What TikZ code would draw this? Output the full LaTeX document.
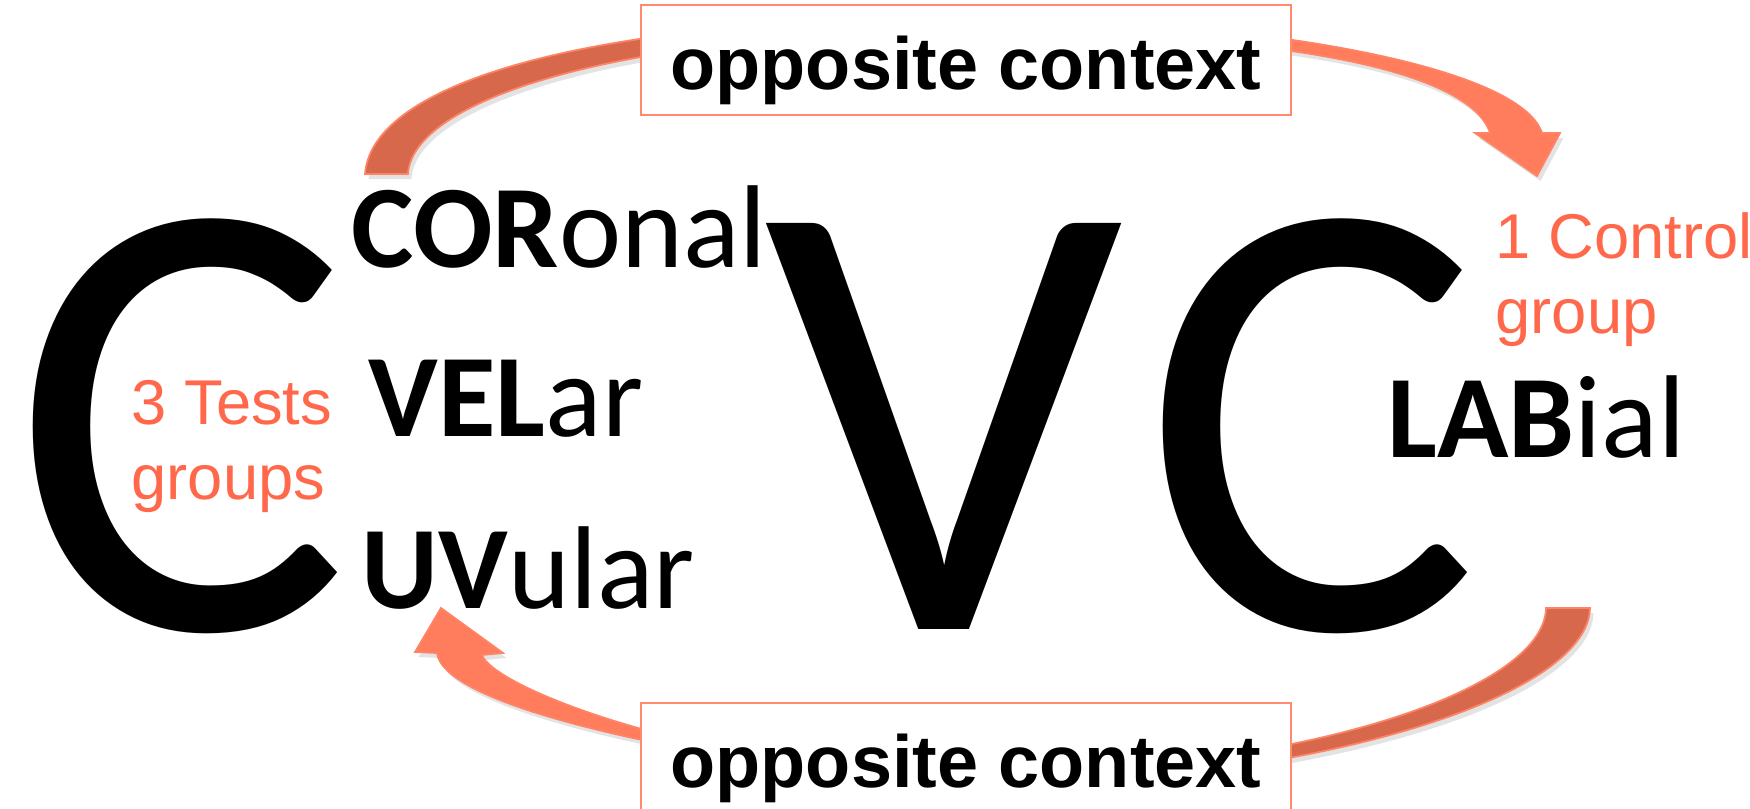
\documentclass[tikz,border=0pt]{standalone}
\usepackage{fontspec}
\setmainfont{Carlito}
\newfontfamily\arialfont{Liberation Sans}
\usetikzlibrary{shadows}

\definecolor{arrdark}{RGB}{216,104,76}
\definecolor{arrlight}{RGB}{255,124,92}
\definecolor{arredge}{RGB}{255,132,102}
\definecolor{grouptxt}{RGB}{255,104,74}
\definecolor{boxedge}{RGB}{255,138,112}

\begin{document}
\begin{tikzpicture}[
    x=0.01cm, y=-0.01cm,
    bigletter/.style={anchor=base west, inner sep=0pt, font=\fontsize{180}{180}\selectfont},
    place/.style={anchor=base west, inner sep=0pt, font=\fontsize{33.5}{40}\selectfont},
    grouplabel/.style={anchor=north west, inner sep=0pt, align=left, text=grouptxt,
        font=\arialfont\fontsize{18}{21.3}\selectfont},
    ctxbox/.style={draw=boxedge, line width=0.6pt, fill=white, minimum width=6.49cm,
        minimum height=1.1cm, inner sep=0pt, text height=19pt, text depth=2pt,
        font=\arialfont\bfseries\fontsize{21}{26}\selectfont},
    band/.style={draw=arredge, line width=0.5pt,
        drop shadow={shadow xshift=0.35mm, shadow yshift=-0.5mm, opacity=0.22}}
]
    \useasboundingbox (0,0) rectangle (1750,809);

    % arrow ends
    \coordinate (topstart) at (365,174);
    \coordinate (toptip) at (1537,176);
    \coordinate (botstart) at (1590,608);
    \coordinate (bottip) at (441,608);

    % upper arrow: CORonal -> LABial
    \path[band, fill=arrdark] (topstart) .. controls (372,80) and (600,18) .. (966,18)
        -- (966,32) .. controls (620,32) and (412,100) .. (408,174) -- cycle;
    \path[band, fill=arrlight] (966,18) .. controls (1250,18) and (1520,65) .. (1542,133)
        -- (1560,133) -- (toptip) -- (1475,133) -- (1490,133)
        .. controls (1470,70) and (1280,32) .. (966,32) -- cycle;

    % lower arrow: LABial -> UVular
    \path[band, fill=arrdark] (botstart) .. controls (1588,700) and (1300,786) .. (966,786)
        -- (966,774) .. controls (1300,774) and (1545,690) .. (1546,608) -- cycle;
    \path[band, fill=arrlight] (966,786) .. controls (760,770) and (445,715) .. (437,653)
        -- (415,652) -- (bottip) -- (503,653) -- (482,655)
        .. controls (495,690) and (720,774) .. (966,774) -- cycle;

    \node[bigletter] (leftC) at (12,629) {C};
    \node[bigletter] (midV) at (764,629) {V};
    \node[bigletter] (rightC) at (1142,629) {C};

    \node[place] (cor) at (351,267) {\textbf{COR}onal};
    \node[place] (vel) at (368,436) {\textbf{VEL}ar};
    \node[place] (uv) at (361,608) {\textbf{UV}ular};
    \node[place] (lab) at (1387,457) {\textbf{LAB}ial};

    \node[grouplabel] (tests) at (131,380) {3 Tests\\groups};
    \node[grouplabel] (control) at (1495,212) {1 Control\\group};

    \node[ctxbox] (ctxtop) at (966,60) {opposite context};
    \node[ctxbox] (ctxbot) at (966,758) {opposite context};
\end{tikzpicture}
\end{document}
